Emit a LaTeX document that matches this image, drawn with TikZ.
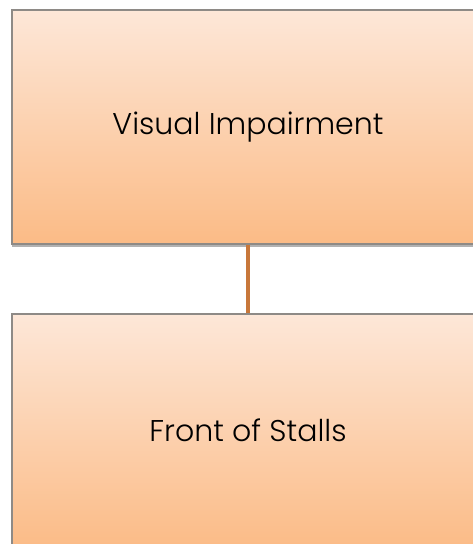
\documentclass[tikz,border=0pt]{standalone}
\usepackage{fontspec}
\setmainfont{Poppins}[UprightFont=* Light]
\usetikzlibrary{shadows}
\definecolor{boxtop}{HTML}{FDE7D8}
\definecolor{boxbot}{HTML}{FBBB86}
\definecolor{boxline}{HTML}{8E8A86}
\definecolor{linkcol}{HTML}{C8773A}
\tikzset{
  unitbox/.style={draw=boxline, line width=1.5pt, top color=boxtop, bottom color=boxbot,
    drop shadow={shadow xshift=0pt, shadow yshift=-3pt, fill=black, opacity=0.3}},
  unitlabel/.style={font=\fontsize{30}{35}\selectfont, text=black},
  link/.style={draw=linkcol, line width=4.5pt}
}
\begin{document}
\begin{tikzpicture}[x=1pt,y=-1pt]
\useasboundingbox (0,0) rectangle (473,544);
\clip (0,0) rectangle (473,544);
\node[unitbox, minimum width=466pt, minimum height=234pt, anchor=north west] (vis) at (11,9) {};
\node[unitbox, minimum width=466pt, minimum height=236pt, anchor=north west] (front) at (11,313) {};
\node[unitlabel] (vislbl) at (248,127) {Visual Impairment};
\node[unitlabel] (frontlbl) at (248,430) {Front of Stalls};
\draw[link] (vis.south -| vislbl) -- (front.north -| vislbl);
\end{tikzpicture}
\end{document}
